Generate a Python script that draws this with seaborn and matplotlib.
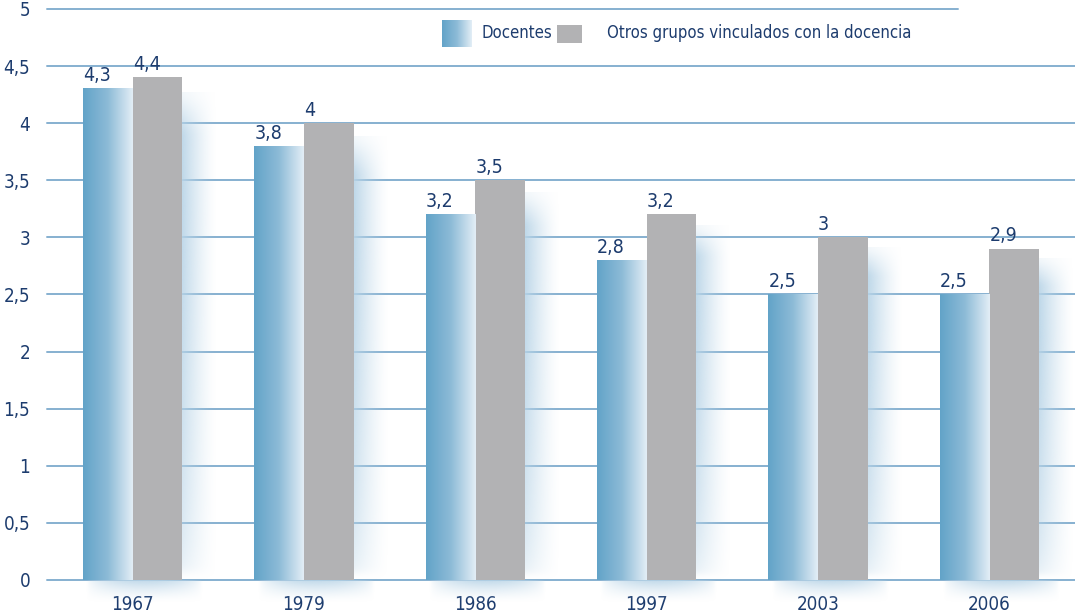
import numpy as np
import pandas as pd
import seaborn as sns
import matplotlib.pyplot as plt
from matplotlib import font_manager
from matplotlib.colors import LinearSegmentedColormap, to_rgb
from matplotlib.patches import Rectangle

# ----------------------------
# Data
# ----------------------------
years = ["1967", "1979", "1986", "1997", "2003", "2006"]
docentes = [4.3, 3.8, 3.2, 2.8, 2.5, 2.5]
otros = [4.4, 4.0, 3.5, 3.2, 3.0, 2.9]
series = ["Docentes", "Otros grupos vinculados con la docencia"]
yticks = [0, 0.5, 1, 1.5, 2, 2.5, 3, 3.5, 4, 4.5, 5]

df = pd.DataFrame({
    "year": years * 2,
    "serie": [series[0]] * len(years) + [series[1]] * len(years),
    "value": docentes + otros,
})

# ----------------------------
# Style
# ----------------------------
NAVY = "#1d3c6e"
BLUE = "#62a3c8"
PALE = "#e3eef6"
GRAY = "#b2b2b4"
GRID = "#86b0d0"
GLOW = "#b8d4e7"

sns.set_style("white")


def is_regular(f):
    return f.style == "normal" and f.weight in (400, "normal", "regular", "book")


# look for a regular narrow font, like the condensed face of the original
narrow = None
for f in font_manager.fontManager.ttflist:
    if is_regular(f) and (f.stretch in ("condensed", "semi-condensed")
                          or "Narrow" in f.name or "Condensed" in f.name
                          or "Condensed" in f.fname or "Narrow" in f.fname):
        if "Bold" in f.fname or "Oblique" in f.fname or "Italic" in f.fname:
            continue
        narrow = f
        break
plt.rcParams["font.family"] = ["DejaVu Sans"]


def fp(size):
    if narrow is not None:
        return font_manager.FontProperties(fname=narrow.fname, size=size)
    return font_manager.FontProperties(family="DejaVu Sans", size=size * 0.85)


fig = plt.figure(figsize=(10.75, 6.15), dpi=100)
ax = fig.add_axes([0.0437, 0.057, 0.9563, 0.9285])

sns.barplot(data=df, x="year", y="value", hue="serie", palette=[BLUE, GRAY],
            width=0.58, gap=0, saturation=1, legend=False, ax=ax, zorder=3,
            linewidth=0, edgecolor="none")

ax.set_ylim(0, 5)
ax.set_xlim(-0.5, len(years) - 0.5)
ax.set_yticks(yticks)
ax.set_yticklabels([f"{t:g}".replace(".", ",") for t in yticks])
for t in yticks[:-1]:
    ax.axhline(t, color=GRID, lw=1.4, zorder=1, clip_on=False)
ax.axhline(5, xmax=0.886, color=GRID, lw=1.4, zorder=1, clip_on=False)

for s in ax.spines.values():
    s.set_visible(False)
ax.tick_params(axis="both", length=0, colors=NAVY)
ax.tick_params(axis="y", pad=12)
ax.tick_params(axis="x", pad=11)
for lab in ax.get_yticklabels():
    lab.set_fontproperties(fp(13.5))
for lab in ax.get_xticklabels():
    lab.set_fontproperties(fp(13.5))
ax.set_xlabel("")
ax.set_ylabel("")

# gradient for blue bars, glow behind bars, value labels
grad_cmap = LinearSegmentedColormap.from_list("doc", [BLUE, "#8dbbd7", PALE])
grad = np.linspace(0, 1, 256).reshape(1, -1)
n = len(years)
blue_bars = ax.patches[:n]
gray_bars = ax.patches[n:2 * n]

glow_rgb = np.array(to_rgb(GLOW))
for pb, pg in zip(blue_bars, gray_bars):
    x0, w, h = pb.get_x(), pb.get_width(), pb.get_height()
    ax.imshow(grad, extent=[x0, x0 + w, 0, h], aspect="auto", cmap=grad_cmap,
              zorder=3.5, interpolation="bicubic")
    pb.set_facecolor("none")

    # soft glow to the right of the grey bar
    gx = pg.get_x() + pg.get_width()
    gh = pg.get_height()
    fade = np.linspace(1, 0, 64) ** 1.4
    vfade = np.clip(np.linspace(0, 1.3, 64), 0, 1)[:, None]
    img = np.zeros((64, 64, 4))
    img[..., :3] = glow_rgb
    img[..., 3] = 0.9 * fade[None, :] * vfade[::-1] ** 0.3
    img[:6, :, 3] *= np.linspace(0.2, 1, 6)[:, None]
    ax.imshow(img, extent=[gx, gx + 0.2, 0, gh * 0.97], aspect="auto",
              zorder=2, interpolation="bicubic")

    # glow below the bars
    img2 = np.zeros((32, 64, 4))
    img2[..., :3] = glow_rgb
    hfade = np.sin(np.linspace(0, np.pi, 64)) ** 0.6
    img2[..., 3] = 0.85 * np.linspace(1, 0, 32)[:, None] ** 1.5 * hfade[None, :]
    im = ax.imshow(img2, extent=[x0 + 0.02, gx + 0.12, -0.2, 0], aspect="auto",
                   zorder=2, interpolation="bicubic")
    im.set_clip_on(False)

    ax.text(x0, h + 0.03, f"{h:g}".replace(".", ","), ha="left", va="bottom",
            color=NAVY, zorder=5, fontproperties=fp(14))
    ax.text(pg.get_x(), gh + 0.03, f"{gh:g}".replace(".", ","), ha="left",
            va="bottom", color=NAVY, zorder=5, fontproperties=fp(14))

ax.set_ylim(0, 5)
ax.set_xlim(-0.5, len(years) - 0.5)

# legend
ax.imshow(grad, extent=[0.384, 0.413, 0.933, 0.979], transform=ax.transAxes,
          aspect="auto", cmap=grad_cmap, zorder=6)
ax.add_patch(Rectangle((0.496, 0.940), 0.024, 0.032, transform=ax.transAxes,
                       facecolor=GRAY, edgecolor="none", zorder=6))
ax.text(0.423, 0.958, series[0], transform=ax.transAxes, color=NAVY,
        va="center", ha="left", fontproperties=fp(12))
ax.text(0.545, 0.958, series[1], transform=ax.transAxes, color=NAVY,
        va="center", ha="left", fontproperties=fp(12))
ax.set_ylim(0, 5)
ax.set_xlim(-0.5, len(years) - 0.5)

fig.savefig("out.png", dpi=100)
